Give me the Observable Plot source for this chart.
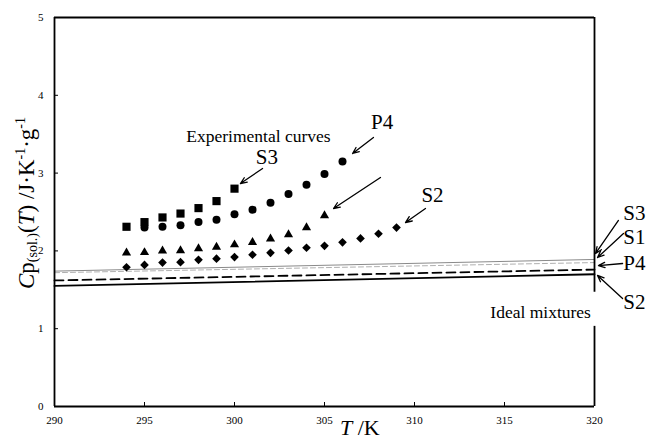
<!DOCTYPE html>
<html><head><meta charset="utf-8">
<script src="https://cdn.jsdelivr.net/npm/d3@7"></script>
<script src="https://cdn.jsdelivr.net/npm/@observablehq/plot@0.6"></script>
<style>body{margin:0;background:#fff} #chart svg{display:block}</style>
</head><body><div id="chart"></div>
<script>
// Experimental points (T in K, Cp in J·K-1·g-1)
const tempsS3 = [294,295,296,297,298,299,300];
const cpS3    = [2.31,2.37,2.43,2.48,2.55,2.64,2.80];
const tempsP4 = [295,296,297,298,299,300,301,302,303,304,305,306];
const cpP4    = [2.30,2.31,2.33,2.37,2.40,2.47,2.53,2.62,2.73,2.85,2.99,3.15];
const tempsS1 = [294,295,296,297,298,299,300,301,302,303,304,305];
const cpS1    = [1.975,1.98,2.00,2.005,2.03,2.05,2.08,2.11,2.155,2.21,2.30,2.455];
const tempsS2 = [294,295,296,297,298,299,300,301,302,303,304,305,306,307,308,309];
const cpS2    = [1.79,1.82,1.85,1.855,1.885,1.90,1.92,1.95,1.975,2.005,2.04,2.065,2.11,2.16,2.22,2.30];

// Ideal mixture lines
const idealT  = [290, 320];
const idealS3 = [1.74, 1.89];
const idealS1 = [1.72, 1.85];
const idealP4 = [1.62, 1.76];
const idealS2 = [1.55, 1.70];

const xTicks = [290,295,300,305,310,315,320];
const yTicks = [0,1,2,3,4,5];

// Annotations (data units)
const innerText = ["P4","S3","S2"];
const innerT    = [308.2, 301.8, 311.0];
const innerCp   = [3.65, 3.20, 2.71];
const rightText = ["S3","S1","P4","S2"];
const rightT    = [321.6, 321.6, 321.6, 321.6];
const rightCp   = [2.48, 2.17, 1.84, 1.34];
const noteText  = ["Experimental curves","Ideal mixtures"];
const noteT     = [301.33, 319.8];
const noteCp    = [3.47, 1.21];
const arrowT1  = [307.72, 301.56, 308.11, 310.61, 321.33, 321.61, 321.56, 321.56];
const arrowCp1 = [3.458, 3.059, 2.943, 2.545, 2.391, 2.224, 1.838, 1.388];
const arrowT2  = [306.56, 300.33, 305.50, 309.50, 320.06, 320.17, 320.22, 320.17];
const arrowCp2 = [3.252, 2.866, 2.545, 2.365, 1.967, 1.915, 1.812, 1.684];
const rightBorderY1 = [0, 1.47];
const rightBorderY2 = [1.03, 5];

const pts = (ts, vs) => ts.map((t, i) => ({t, v: vs[i]}));
const line = (vs) => idealT.map((t, i) => ({t, v: vs[i]}));
const lab = (txt, ts, vs) => txt.map((text, i) => ({text, t: ts[i], v: vs[i]}));
const arrows = arrowT1.map((t1, i) => ({t1, v1: arrowCp1[i], t2: arrowT2[i], v2: arrowCp2[i]}));
const rb = rightBorderY1.map((y1, i) => ({x: 320, y1, y2: rightBorderY2[i]}));
const notes = lab(noteText, noteT, noteCp);

const serif = "Liberation Serif";
const plot = Plot.plot({
  width: 646, height: 439,
  marginLeft: 54, marginRight: 52, marginTop: 17, marginBottom: 33,
  style: {fontFamily: serif, fontSize: "11px", color: "black", background: "white"},
  x: {domain: [290, 320]},
  y: {domain: [0, 5]},
  marks: [
    Plot.axisX({ticks: xTicks, tickSize: -4, tickPadding: 14, tickFormat: d => String(d), label: null, fontSize: 11, fontFamily: serif}),
    Plot.axisY({ticks: yTicks, tickSize: -4, tickPadding: 15, tickFormat: d => String(d), label: null, fontSize: 11, fontFamily: serif}),
    Plot.line(line(idealS3), {x: "t", y: "v", stroke: "#8a8a8a", strokeWidth: 1}),
    Plot.line(line(idealS1), {x: "t", y: "v", stroke: "#b0b0b0", strokeWidth: 1, strokeDasharray: "5,3"}),
    Plot.line(line(idealP4), {x: "t", y: "v", stroke: "black", strokeWidth: 1.8, strokeDasharray: "9,5"}),
    Plot.line(line(idealS2), {x: "t", y: "v", stroke: "black", strokeWidth: 1.8}),
    Plot.ruleY([0, 5], {stroke: "black", strokeWidth: 1.8}),
    Plot.ruleX([290], {stroke: "black", strokeWidth: 1.8}),
    Plot.ruleX(rb, {x: "x", y1: "y1", y2: "y2", stroke: "black", strokeWidth: 1.8}),
    Plot.dot(pts(tempsS1, cpS1), {x: "t", y: "v", symbol: "triangle", r: 3.4, fill: "black", stroke: "none"}),
    Plot.dot(pts(tempsS2, cpS2), {x: "t", y: "v", symbol: "diamond2", r: 3.9, fill: "black", stroke: "none"}),
    Plot.dot(pts(tempsP4, cpP4), {x: "t", y: "v", symbol: "circle", r: 4, fill: "black", stroke: "none"}),
    Plot.dot(pts(tempsS3, cpS3), {x: "t", y: "v", symbol: "square", r: 4.6, fill: "black", stroke: "none"}),
    Plot.arrow(arrows, {x1: "t1", y1: "v1", x2: "t2", y2: "v2", stroke: "black", strokeWidth: 1.3, headLength: 8, headAngle: 45}),
    Plot.text(lab(innerText, innerT, innerCp), {x: "t", y: "v", text: "text", textAnchor: "middle", fontSize: 21, fontFamily: serif, fill: "black"}),
    Plot.text(lab(rightText, rightT, rightCp), {x: "t", y: "v", text: "text", textAnchor: "start", fontSize: 21, fontFamily: serif, fill: "black"}),
    Plot.text([notes[0]], {x: "t", y: "v", text: "text", textAnchor: "middle", fontSize: 17.5, fontFamily: serif, fill: "black"}),
    Plot.text([notes[1]], {x: "t", y: "v", text: "text", textAnchor: "end", fontSize: 17.5, fontFamily: serif, fill: "black"})
  ]
});
document.getElementById("chart").appendChild(plot);

const svg = d3.select(plot);
const xl = svg.append("text").attr("x", 340).attr("y", 435).attr("text-anchor", "start")
  .attr("font-family", serif).attr("font-size", 22).attr("fill", "black");
xl.append("tspan").attr("font-style", "italic").text("T");
xl.append("tspan").text(" /K");

const yl = svg.append("text").attr("transform", "translate(34,203) rotate(-90)")
  .attr("text-anchor", "middle").attr("font-family", serif).attr("font-size", 23).attr("fill", "black");
yl.append("tspan").attr("font-style", "italic").text("C");
yl.append("tspan").text("p");
yl.append("tspan").attr("font-size", 14).attr("dy", 3).text("(sol.)");
yl.append("tspan").attr("dy", -3).text("(");
yl.append("tspan").attr("font-style", "italic").text("T");
yl.append("tspan").text(") /J·K");
yl.append("tspan").attr("font-size", 14).attr("dy", -9).text("-1");
yl.append("tspan").attr("dy", 9).text("·g");
yl.append("tspan").attr("font-size", 14).attr("dy", -9).text("-1");

// keep y tick labels on top of the axis title
svg.selectAll('g[aria-label^="y-axis"]').each(function() { plot.appendChild(this); });
</script>
</body></html>
